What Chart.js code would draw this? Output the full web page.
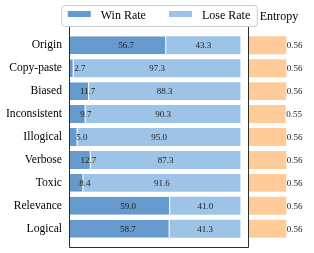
<!DOCTYPE html>
<html><head><meta charset="utf-8">
<script src="https://cdn.jsdelivr.net/npm/chart.js@4/dist/chart.umd.min.js"></script>
<style>
html,body{margin:0;padding:0;background:#fff}
#wrap{position:relative;width:314px;height:253px;overflow:hidden}
#wrap canvas{position:absolute;left:0;top:0}
</style></head><body>
<div id="wrap"><canvas id="main" width="314" height="253"></canvas><canvas id="ent" width="314" height="253"></canvas></div>
<script>
const categories = ['Origin','Copy-paste','Biased','Inconsistent','Illogical','Verbose','Toxic','Relevance','Logical'];
const winRate  = [56.7, 2.7, 11.7, 9.7, 5.0, 12.7, 8.4, 59.0, 58.7];
const loseRate = [43.3, 97.3, 88.3, 90.3, 95.0, 87.3, 91.6, 41.0, 41.3];
const entropy  = [0.56, 0.56, 0.56, 0.55, 0.56, 0.56, 0.56, 0.56, 0.56];
const seriesNames = ['Win Rate', 'Lose Rate'];
const entropyTitle = 'Entropy';

const SERIF = "'Liberation Serif','DejaVu Serif',serif";
const WIN_C = '#6699cc', LOSE_C = '#9dc3e6', ENT_C = '#ffcc99';

function yAxis(display) {
  return {
    type: 'linear', reverse: true, min: -0.84, max: 8.84, offset: false, display: display, stacked: true,
    afterBuildTicks: s => { s.ticks = categories.map((_, i) => ({ value: i })); },
    afterFit: s => { if (display) s.width = 69; },
    grid: { display: false, drawTicks: true, tickLength: 7 },
    border: { display: false },
    ticks: {
      padding: 0, color: '#000', autoSkip: false,
      font: { family: SERIF, size: 11.6, lineHeight: 0.8 },
      callback: v => categories[v]
    }
  };
}

const mainPlugin = {
  id: 'mainDeco',
  afterDatasetsDraw(chart) {
    const { ctx, scales: { x, y } } = chart;
    ctx.save();
    ctx.font = '9px ' + SERIF;
    ctx.fillStyle = '#222';
    ctx.textAlign = 'center';
    ctx.textBaseline = 'middle';
    categories.forEach((c, i) => {
      const py = y.getPixelForValue(i) + 0.5;
      ctx.fillText(winRate[i].toFixed(1), x.getPixelForValue(winRate[i] / 2 + 5), py);
      ctx.fillText(loseRate[i].toFixed(1), x.getPixelForValue(winRate[i] + loseRate[i] / 2), py);
    });
    ctx.restore();
  },
  afterDraw(chart) {
    const { ctx, chartArea: a } = chart;
    ctx.save();
    // frame
    ctx.strokeStyle = '#2b2b2b';
    ctx.lineWidth = 1;
    ctx.beginPath();
    ctx.moveTo(a.left + 0.5, a.top);
    ctx.lineTo(a.left + 0.5, a.bottom - 0.5);
    ctx.lineTo(a.right - 0.5, a.bottom - 0.5);
    ctx.lineTo(a.right - 0.5, a.top);
    ctx.stroke();
    // legend
    ctx.font = '12px ' + SERIF;
    const sw = 23, gap = 10, itemGap = 23, pad = 6.5;
    const items = chart.data.datasets.map(d => ({ text: d.label, color: d.backgroundColor, w: ctx.measureText(d.label).width }));
    let total = 0;
    items.forEach((it, k) => { total += sw + gap + it.w + (k ? itemGap : 0); });
    const cx = (a.left + a.right) / 2;
    const bx0 = cx - total / 2 - pad, bx1 = cx + total / 2 + pad;
    const by0 = 5, by1 = 26;
    ctx.beginPath();
    ctx.roundRect(bx0 + 0.5, by0 + 0.5, bx1 - bx0, by1 - by0, 3);
    ctx.fillStyle = '#fff';
    ctx.fill();
    ctx.strokeStyle = '#cccccc';
    ctx.stroke();
    let xx = cx - total / 2;
    ctx.textAlign = 'left';
    ctx.textBaseline = 'middle';
    items.forEach(it => {
      ctx.fillStyle = it.color;
      ctx.fillRect(xx, 11, sw, 6);
      ctx.fillStyle = '#000';
      ctx.fillText(it.text, xx + sw + gap, 15.5);
      xx += sw + gap + it.w + itemGap;
    });
    ctx.restore();
  }
};

new Chart(document.getElementById('main'), {
  type: 'bar',
  data: {
    datasets: [
      { label: seriesNames[0], data: winRate.map((v, i) => ({ x: v, y: i })), backgroundColor: WIN_C,
        borderColor: '#fff', borderWidth: { top: 0, bottom: 0, left: 0, right: 1 }, borderSkipped: false },
      { label: seriesNames[1], data: loseRate.map((v, i) => ({ x: v, y: i })), backgroundColor: LOSE_C,
        borderWidth: 0 }
    ]
  },
  options: {
    responsive: false, animation: false, devicePixelRatio: 1,
    indexAxis: 'y',
    barPercentage: 0.78, categoryPercentage: 1,
    layout: { padding: { left: 0, right: 65, top: 26, bottom: 5 } },
    scales: {
      x: { type: 'linear', stacked: true, min: 0, max: 105, display: false },
      y: yAxis(true)
    },
    plugins: { legend: { display: false }, tooltip: { enabled: false } }
  },
  plugins: [mainPlugin]
});

const entPlugin = {
  id: 'entDeco',
  afterDatasetsDraw(chart) {
    const { ctx, scales: { x, y } } = chart;
    ctx.save();
    ctx.font = '9px ' + SERIF;
    ctx.fillStyle = '#222';
    ctx.textAlign = 'left';
    ctx.textBaseline = 'middle';
    entropy.forEach((v, i) => {
      ctx.fillText(v.toFixed(2), x.getPixelForValue(v) + 0.5, y.getPixelForValue(i) + 0.5);
    });
    ctx.restore();
  }
};

new Chart(document.getElementById('ent'), {
  type: 'bar',
  data: {
    datasets: [
      { label: entropyTitle, data: entropy.map((v, i) => ({ x: v, y: i })), backgroundColor: ENT_C, borderWidth: 0 }
    ]
  },
  options: {
    responsive: false, animation: false, devicePixelRatio: 1,
    indexAxis: 'y',
    barPercentage: 0.78, categoryPercentage: 1,
    layout: { padding: { left: 249, right: 5, top: 0, bottom: 5 } },
    scales: {
      x: { type: 'linear', min: 0, max: 0.9, display: false },
      y: yAxis(false)
    },
    plugins: {
      legend: { display: false }, tooltip: { enabled: false },
      title: { display: true, text: entropyTitle, fullSize: false, color: '#000',
        font: { family: SERIF, size: 12, weight: 'normal' }, padding: { top: 10, bottom: 1.6 } }
    }
  },
  plugins: [entPlugin]
});
</script>
</body></html>
